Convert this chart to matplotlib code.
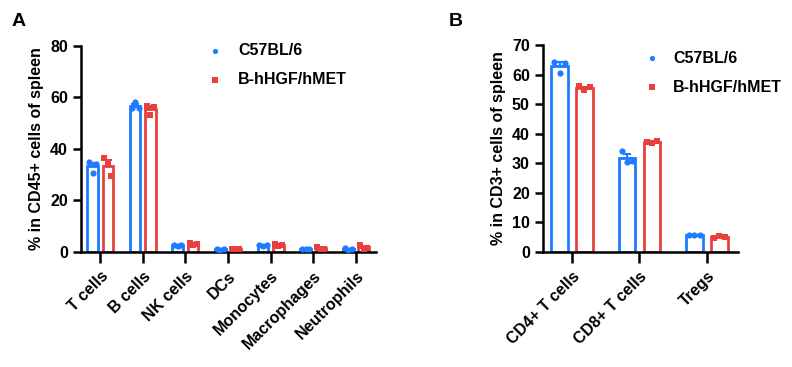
import numpy as np
import matplotlib.pyplot as plt

plt.rcParams['font.family'] = ['Liberation Sans', 'DejaVu Sans']
plt.rcParams['font.weight'] = 'bold'

BLUE = '#1f7bff'
RED = '#e8403f'

groups = ['C57BL/6', 'B-hHGF/hMET']

# Panel A: % in CD45+ cells of spleen
cells_a = ['T cells', 'B cells', 'NK cells', 'DCs', 'Monocytes', 'Macrophages', 'Neutrophils']
wt_a = [[34.8, 30.6, 34.2], [56.0, 58.3, 56.0], [2.9, 2.5, 2.8], [1.0, 0.9, 1.0],
        [2.7, 2.3, 2.6], [1.1, 1.0, 1.2], [1.5, 0.8, 1.1]]
hu_a = [[36.6, 34.5, 29.6], [56.7, 53.3, 56.4], [3.3, 2.6, 3.0], [1.1, 1.2, 1.0],
        [3.0, 2.4, 2.9], [1.8, 1.0, 1.3], [2.8, 1.0, 1.5]]

# Panel B: % in CD3+ cells of spleen
cells_b = ['CD4+ T cells', 'CD8+ T cells', 'Tregs']
wt_b = [[64.4, 60.4, 63.8], [34.3, 30.3, 30.9], [5.8, 5.6, 5.8]]
hu_b = [[56.1, 54.8, 55.7], [37.3, 36.9, 37.5], [4.6, 5.5, 5.0]]


def draw_panel(ax, cats, wt, hu, ylim, yticks, ylabel, xlim, width, off):
    x = np.arange(len(cats))
    for vals, sign, color, marker in [(wt, -1, BLUE, 'o'), (hu, 1, RED, 's')]:
        vals = np.array(vals)
        means = vals.mean(axis=1)
        sem = vals.std(axis=1, ddof=1) / np.sqrt(vals.shape[1])
        pos = x + sign * off
        ax.bar(pos, means, width=width, facecolor='white', edgecolor=color,
               linewidth=2, zorder=2)
        ax.errorbar(pos, means, yerr=[np.zeros_like(sem), sem], fmt='none',
                    ecolor=color, elinewidth=1.5, capsize=3, capthick=1.5, zorder=3)
        jit = np.array([-0.33, 0.0, 0.33]) * width
        for i in range(len(cats)):
            ax.scatter(pos[i] + jit, vals[i], s=20, color=color, marker=marker,
                       zorder=4, linewidths=0)
    ax.set_xlim(*xlim)
    ax.set_ylim(*ylim)
    ax.set_yticks(yticks)
    ax.set_xticks(x)
    ax.set_xticklabels(cats, rotation=45, ha='right', rotation_mode='anchor',
                       fontsize=11.5, fontweight='bold')
    ax.tick_params(axis='y', labelsize=11.5, width=1.8, length=6)
    ax.tick_params(axis='x', width=1.8, length=8, pad=4)
    for lab in ax.get_yticklabels():
        lab.set_fontweight('bold')
    for s in ['top', 'right']:
        ax.spines[s].set_visible(False)
    for s in ['left', 'bottom']:
        ax.spines[s].set_linewidth(1.8)
    ax.set_ylabel(ylabel, fontsize=11.5, fontweight='bold', labelpad=4)


fig = plt.figure(figsize=(7.92, 3.67), dpi=100)
ax1 = fig.add_axes([0.1023, 0.3134, 0.3724, 0.5613])
ax2 = fig.add_axes([0.6856, 0.3134, 0.2462, 0.5640])

draw_panel(ax1, cells_a, wt_a, hu_a, (0, 80), [0, 20, 40, 60, 80],
           '% in CD45+ cells of spleen', (-0.45, 6.47), 0.25, 0.18)
draw_panel(ax2, cells_b, wt_b, hu_b, (0, 70), range(0, 71, 10),
           '% in CD3+ cells of spleen', (-0.43, 2.46), 0.24, 0.185)

# legends: (marker x, text x, first row y, row step) in axes coords
for ax, (mx, tx, ly, dy) in [(ax1, (0.454, 0.532, 0.976, 0.141)),
                             (ax2, (0.559, 0.667, 0.937, 0.140))]:
    for k, (name, color, marker) in enumerate([(groups[0], BLUE, 'o'), (groups[1], RED, 's')]):
        ax.scatter([mx], [ly - k * dy], s=14, color=color, marker=marker,
                   transform=ax.transAxes, clip_on=False, linewidths=0)
        ax.text(tx, ly - k * dy, name, transform=ax.transAxes,
                fontsize=11.5, fontweight='bold', va='center')

fig.text(0.014, 0.93, 'A', fontsize=14, fontweight='bold')
fig.text(0.567, 0.93, 'B', fontsize=14, fontweight='bold')

fig.savefig('out.png', dpi=100)
